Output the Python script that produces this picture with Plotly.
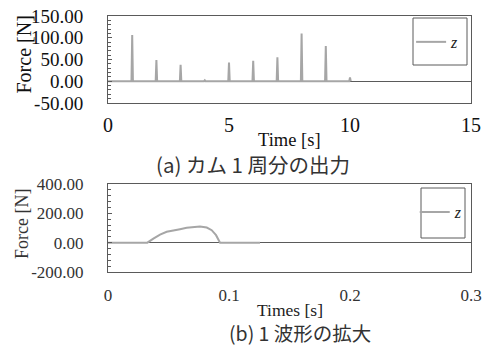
import plotly.graph_objects as go

# (a) full cam cycle
time_a = [0, 0.97, 1.0, 1.03, 1.97, 2.0, 2.03, 2.97, 3.0, 3.03, 3.97, 4.0, 4.03,
          4.97, 5.0, 5.03, 5.97, 6.0, 6.03, 6.97, 7.0, 7.03, 7.97, 8.0, 8.03,
          8.97, 9.0, 9.03, 9.97, 10.0, 10.03]
force_a = [0, 0, 106, 0, 0, 49, 0, 0, 38, 0, 0, 2, 0,
           0, 43, 0, 0, 47, 0, 0, 55, 0, 0, 110, 0,
           0, 81, 0, 0, 9, 0]

# (b) one waveform enlarged
time_b = [0, 0.0325, 0.0375, 0.043, 0.0485, 0.054, 0.0595, 0.065, 0.0705,
          0.076, 0.0816, 0.0857, 0.0893, 0.0926, 0.1256]
force_b = [0, 0, 28, 55, 74, 85, 92, 101, 108, 110, 103, 85, 51, 0, 0]

ticks_a_y = [-50, 0, 50, 100, 150]
ticks_a_y_text = ["-50.00", "0.00", "50.00", "100.00", "150.00"]
ticks_a_x = [0, 5, 10, 15]
ticks_b_y = [-200, 0, 200, 400]
ticks_b_y_text = ["-200.00", "0.00", "200.00", "400.00"]
ticks_b_x = [0, 0.1, 0.2, 0.3]
ticks_b_x_text = ["0", "0.1", "0.2", "0.3"]

SERIF = "Liberation Serif"
CJK = "Noto Sans CJK JP"
FRAME = "#5a5a5a"
LINE = "#a6a6a6"

fig = go.Figure()
fig.add_trace(go.Scatter(x=time_a, y=force_a, mode="lines", name="z",
                         line=dict(color=LINE, width=2), xaxis="x", yaxis="y",
                         legend="legend"))
fig.add_trace(go.Scatter(x=time_b, y=force_b, mode="lines", name="z",
                         line=dict(color=LINE, width=2),
                         xaxis="x2", yaxis="y2", legend="legend2"))

W, H = 483, 347
l, r, t, b = 108, 12, 16, 75
pw = W - l - r
ph = H - t - b
top_dom = [(272 - 103) / ph, 1.0]
bot_dom = [0.0, (272 - 184) / ph]


def px(x):
    return (x - l) / pw


def py(y):
    return (H - b - y) / ph


common_y = dict(showline=True, mirror=True, linecolor=FRAME, linewidth=1,
                showgrid=False, zeroline=True, zerolinecolor=FRAME, zerolinewidth=1,
                ticks="inside", tickcolor=FRAME, ticklen=4)
common_x = dict(showline=True, mirror=True, linecolor=FRAME, linewidth=1,
                showgrid=False, zeroline=False, ticks="", ticklabeloverflow="allow")

fig.update_layout(
    width=W, height=H,
    margin=dict(l=l, r=r, t=t, b=b, autoexpand=False),
    paper_bgcolor="white", plot_bgcolor="white",
    font=dict(family=SERIF),
    showlegend=True,
    xaxis=dict(common_x, domain=[0, 1], anchor="y", range=[0, 15],
               tickvals=ticks_a_x, ticklabelstandoff=4,
               tickfont=dict(family=SERIF, size=20, color="#111")),
    yaxis=dict(common_y, domain=top_dom, anchor="x", range=[-50, 150],
               tickvals=ticks_a_y, ticktext=ticks_a_y_text, ticklabelstandoff=20,
               minor=dict(dtick=10, ticks="inside", ticklen=3, tickcolor=FRAME),
               tickfont=dict(family=SERIF, size=19, color="#111")),
    xaxis2=dict(common_x, domain=[0, 1], anchor="y2", range=[0, 0.3],
                tickvals=ticks_b_x, ticktext=ticks_b_x_text, ticklabelstandoff=8,
                tickfont=dict(family=SERIF, size=17, color="#333")),
    yaxis2=dict(common_y, domain=bot_dom, anchor="x2", range=[-200, 400],
                tickvals=ticks_b_y, ticktext=ticks_b_y_text, ticklabelstandoff=20,
                minor=dict(dtick=40, ticks="inside", ticklen=3, tickcolor=FRAME),
                tickfont=dict(family=SERIF, size=17, color="#333")),
    legend=dict(x=0.835, y=0.965, xref="paper", yref="paper", xanchor="left",
                yanchor="top", bgcolor="rgba(0,0,0,0)", borderwidth=0,
                font=dict(family=SERIF, size=16, color="#222", style="italic")),
    legend2=dict(x=0.845, y=0.30, xref="paper", yref="paper", xanchor="left",
                 yanchor="top", bgcolor="rgba(0,0,0,0)", borderwidth=0,
                 font=dict(family=SERIF, size=16, color="#222", style="italic")),
    shapes=[
        dict(type="rect", xref="paper", yref="paper",
             x0=px(413), x1=px(467), y0=py(65), y1=py(18),
             line=dict(color=FRAME, width=1)),
        dict(type="rect", xref="paper", yref="paper",
             x0=px(421), x1=px(465), y0=py(238), y1=py(188),
             line=dict(color=FRAME, width=1)),
    ],
    annotations=[
        dict(text="Force [N]", xref="paper", yref="paper", x=px(23.5), y=py(55),
             textangle=-90, showarrow=False, xanchor="center", yanchor="middle",
             font=dict(family=SERIF, size=20, color="#111")),
        dict(text="Force [N]", xref="paper", yref="paper", x=px(22), y=py(224),
             textangle=-90, showarrow=False, xanchor="center", yanchor="middle",
             font=dict(family=SERIF, size=18, color="#333")),
        dict(text="Time [s]", xref="paper", yref="paper", x=px(289), y=py(139.5),
             showarrow=False, xanchor="center", yanchor="middle",
             font=dict(family=SERIF, size=18.5, color="#111")),
        dict(text="Times [s]", xref="paper", yref="paper", x=px(290), y=py(309.5),
             showarrow=False, xanchor="center", yanchor="middle",
             font=dict(family=SERIF, size=17.5, color="#222")),
        dict(text="(a) カム 1 周分の出力", xref="paper", yref="paper",
             x=px(253), y=py(164), showarrow=False,
             xanchor="center", yanchor="middle",
             font=dict(family=CJK, size=20.5, color="#333")),
        dict(text="(b) 1 波形の拡大", xref="paper", yref="paper",
             x=px(300), y=py(332), showarrow=False,
             xanchor="center", yanchor="middle",
             font=dict(family=CJK, size=19.5, color="#333")),
    ],
)

fig.write_html("out.html", config={"displayModeBar": False},
               post_script="document.body.style.margin='0px';")
